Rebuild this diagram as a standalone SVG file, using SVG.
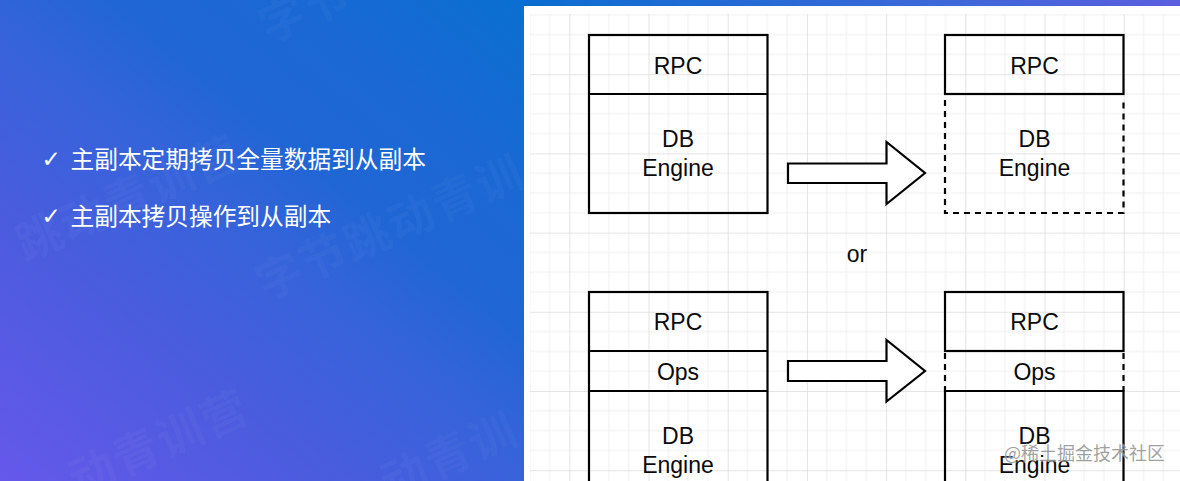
<svg xmlns="http://www.w3.org/2000/svg" width="1180" height="481" viewBox="0 0 1180 481">
  <defs>
    <linearGradient id="bg" gradientUnits="userSpaceOnUse" x1="0" y1="481" x2="440" y2="-60">
      <stop offset="0" stop-color="#6558ea"/>
      <stop offset="0.3" stop-color="#4a5cde"/>
      <stop offset="0.5" stop-color="#3663da"/>
      <stop offset="0.64" stop-color="#2066d5"/>
      <stop offset="0.8" stop-color="#1a68d4"/>
      <stop offset="1" stop-color="#0a6fd0"/>
    </linearGradient>
    <linearGradient id="strip" gradientUnits="userSpaceOnUse" x1="524" y1="0" x2="1180" y2="0">
      <stop offset="0" stop-color="#0a6dd0"/>
      <stop offset="0.6" stop-color="#3a68d8"/>
      <stop offset="1" stop-color="#5a5ede"/>
    </linearGradient>
    <pattern id="grid" patternUnits="userSpaceOnUse" x="569.3" y="74.2" width="79.2" height="79.2">
      <path class="minor" d="M19.8 0V79.2M39.6 0V79.2M59.4 0V79.2M0 19.8H79.2M0 39.6H79.2M0 59.4H79.2"/>
      <path class="major" d="M0.3 0V79.2M0 0.3H79.2"/>
    </pattern>
    <clipPath id="leftClip"><rect x="0" y="0" width="524" height="481"/></clipPath>
  </defs>
  <style>
    .minor { fill: none; stroke: #f0f0f0; stroke-width: 1; }
    .major { fill: none; stroke: #dcdcdc; stroke-width: 1; }
    .box { fill: none; stroke: #000; stroke-width: 2.2; }
    .dash { fill: none; stroke: #000; stroke-width: 2.2; stroke-dasharray: 6 5; }
    .arrow { fill: #fff; stroke: #000; stroke-width: 2.2; stroke-linejoin: miter; }
    .lbl { font-family: "Liberation Sans", Arial, sans-serif; font-size: 23px; fill: #0a0a0a; text-anchor: middle; }
    .cn { font-family: "Noto Sans CJK SC", "Noto Sans", sans-serif; font-size: 23.7px; fill: #fff; }
    .chk { font-family: "DejaVu Sans", sans-serif; font-size: 23px; fill: #fff; }
    .wm { font-family: "Noto Sans CJK SC", sans-serif; font-size: 46px; font-weight: 700; fill: #fff; fill-opacity: 0.045; letter-spacing: 2px; }
    .credit { font-family: "Noto Sans CJK SC", sans-serif; font-size: 18px; fill: #8f8f8f; fill-opacity: 0.85; stroke: #fff; stroke-opacity: 0.35; stroke-width: 2; paint-order: stroke; }
  </style>

  <rect id="background" x="0" y="0" width="524" height="481" fill="url(#bg)"/>
  <rect id="top-strip" x="524" y="0" width="656" height="6" fill="url(#strip)"/>

  <g id="watermarks" clip-path="url(#leftClip)">
    <text class="wm" transform="translate(78 497) rotate(-24)">动青训营</text>
    <text class="wm" transform="translate(265 301) rotate(-24)">字节跳动青训</text>
    <text class="wm" transform="translate(390 500) rotate(-24)">动青训</text>
    <text class="wm" transform="translate(268 44) rotate(-24)">字节</text>
    <text class="wm" transform="translate(25 262) rotate(-24)">跳动青训营</text>
  </g>

  <g id="bullets">
    <text class="chk" x="41.5" y="166.5">✓</text>
    <text class="cn" x="70.5" y="168">主副本定期拷贝全量数据到从副本</text>
    <text class="chk" x="41.5" y="224">✓</text>
    <text class="cn" x="70.5" y="225">主副本拷贝操作到从副本</text>
  </g>

  <g id="panel">
    <rect x="524" y="6" width="656" height="475" fill="#fff"/>
    <rect x="530" y="14" width="650" height="467" fill="url(#grid)"/>
  </g>

  <g id="node-full-source">
    <rect class="box" x="589" y="35" width="178.5" height="178"/>
    <path class="box" d="M589 94H767.5"/>
    <text class="lbl" x="678" y="73.5">RPC</text>
    <text class="lbl" x="678" y="147">DB</text>
    <text class="lbl" x="678" y="176">Engine</text>
  </g>

  <g id="node-full-replica">
    <rect class="box" x="945" y="35" width="178.5" height="59"/>
    <path class="dash" d="M945 100V213H1123.5V100"/>
    <text class="lbl" x="1034.5" y="73.5">RPC</text>
    <text class="lbl" x="1034.5" y="147">DB</text>
    <text class="lbl" x="1034.5" y="176">Engine</text>
  </g>

  <text id="label-or" class="lbl" x="857" y="261.5">or</text>

  <g id="node-ops-source">
    <rect class="box" x="589" y="292" width="178.5" height="230"/>
    <path class="box" d="M589 351H767.5M589 391H767.5"/>
    <text class="lbl" x="678" y="330">RPC</text>
    <text class="lbl" x="678" y="380">Ops</text>
    <text class="lbl" x="678" y="444">DB</text>
    <text class="lbl" x="678" y="472.5">Engine</text>
  </g>

  <g id="node-ops-replica">
    <rect class="box" x="945" y="292" width="178.5" height="59"/>
    <path class="dash" d="M945 353V391M1123.5 353V391"/>
    <path class="box" d="M945 522V391H1123.5V522"/>
    <text class="lbl" x="1034.5" y="330">RPC</text>
    <text class="lbl" x="1034.5" y="380">Ops</text>
    <text class="lbl" x="1034.5" y="444">DB</text>
    <text class="lbl" x="1034.5" y="472.5">Engine</text>
  </g>

  <g id="connectors">
    <path class="arrow" d="M788 163.5H886.5V142L925 173L886.5 204V183H788Z"/>
    <path class="arrow" d="M788 361H886.5V340L925 371L886.5 401.5V381H788Z"/>
  </g>

  <text id="credit" class="credit" x="1004" y="460">@稀土掘金技术社区</text>
</svg>
